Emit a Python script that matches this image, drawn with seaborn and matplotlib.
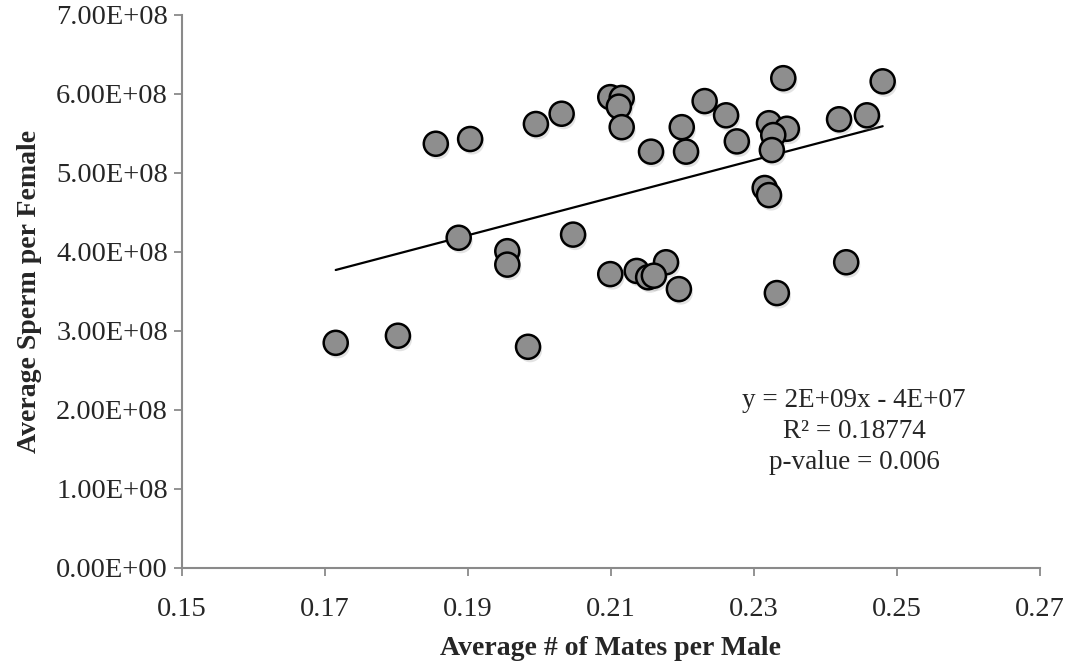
import numpy as np
import pandas as pd
import matplotlib
matplotlib.use("Agg")
import matplotlib.pyplot as plt
import matplotlib.patheffects as pe
import seaborn as sns

# Average number of mates per male (x) vs. average sperm per female (y)
mates_per_male = [
    0.1715, 0.1802, 0.1855, 0.1903, 0.1887, 0.1955, 0.1955, 0.1984,
    0.1995, 0.2031, 0.2047, 0.2099, 0.2115, 0.2111, 0.2115, 0.2156,
    0.2199, 0.2205, 0.2231, 0.2261, 0.2276, 0.2321, 0.2346, 0.2327,
    0.2325, 0.2341, 0.2419, 0.2458, 0.2480, 0.2315, 0.2321, 0.2099,
    0.2136, 0.2177, 0.2152, 0.2160, 0.2195, 0.2332, 0.2429,
]
sperm_per_female = [
    2.85e8, 2.94e8, 5.37e8, 5.43e8, 4.18e8, 4.01e8, 3.84e8, 2.80e8,
    5.62e8, 5.75e8, 4.22e8, 5.96e8, 5.95e8, 5.84e8, 5.58e8, 5.27e8,
    5.58e8, 5.27e8, 5.91e8, 5.73e8, 5.40e8, 5.63e8, 5.56e8, 5.48e8,
    5.29e8, 6.20e8, 5.68e8, 5.73e8, 6.16e8, 4.81e8, 4.72e8, 3.72e8,
    3.76e8, 3.87e8, 3.68e8, 3.70e8, 3.53e8, 3.48e8, 3.87e8,
]
x_ticks = [0.15, 0.17, 0.19, 0.21, 0.23, 0.25, 0.27]
y_ticks = [0, 1e8, 2e8, 3e8, 4e8, 5e8, 6e8, 7e8]
fit_text = ["y = 2E+09x - 4E+07", "R\u00b2 = 0.18774", "p-value = 0.006"]

df = pd.DataFrame({"mates": mates_per_male, "sperm": sperm_per_female})

sns.set_style("white")
plt.rcParams["font.family"] = ["Liberation Serif", "DejaVu Serif"]

fig = plt.figure(figsize=(10.75, 6.63), dpi=100)
ax = fig.add_axes([0.1693, 0.1433, 0.7981, 0.8341])

# linear trendline over the data range
sns.regplot(data=df, x="mates", y="sperm", scatter=False, ci=None, ax=ax,
            line_kws={"color": "black", "lw": 1.6, "zorder": 2})

sns.scatterplot(data=df, x="mates", y="sperm", ax=ax, s=300,
                color="#8e8e8e", edgecolor="black", linewidth=1.8,
                zorder=3, legend=False)
for coll in ax.collections:
    coll.set_path_effects([
        pe.SimplePatchShadow(offset=(1.5, -2.5), shadow_rgbFace="#777777",
                             alpha=0.2),
        pe.Normal(),
    ])

ax.set_xlim(0.15, 0.27)
ax.set_ylim(0, 7e8)
ax.set_xticks(x_ticks)
ax.set_xticklabels([f"{v:.2f}" for v in x_ticks])
ax.set_yticks(y_ticks)
ax.set_yticklabels([f"{v:.2E}" for v in y_ticks])

for side in ["top", "right"]:
    ax.spines[side].set_visible(False)
for side in ["left", "bottom"]:
    ax.spines[side].set_color("#8a8a8a")
    ax.spines[side].set_linewidth(1.5)

ax.tick_params(axis="both", which="major", direction="out", length=6,
               width=1.3, color="#8a8a8a", labelsize=20.5,
               left=True, bottom=True)
ax.tick_params(axis="x", pad=15)
ax.tick_params(axis="y", pad=4)

ax.set_xlabel("Average # of Mates per Male", fontsize=20, fontweight="bold",
              labelpad=10)
ax.set_ylabel("Average Sperm per Female", fontsize=20, fontweight="bold",
              labelpad=10)

ax.text(0.244, 1.73e8, "\n".join(fit_text), ha="center", va="center",
        fontsize=19.5, linespacing=1.32)

fig.savefig("out.png", dpi=100)
